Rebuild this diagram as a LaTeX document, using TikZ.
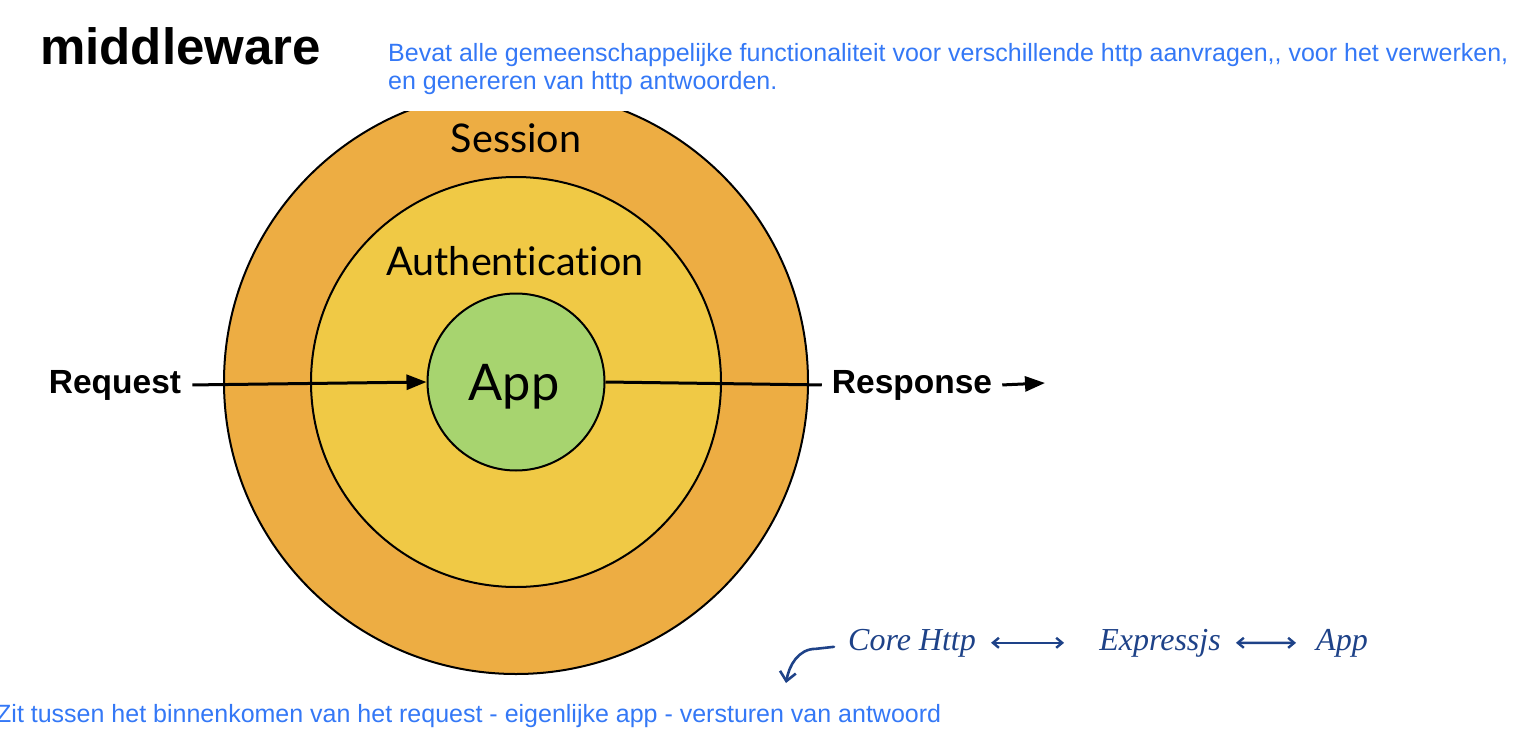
\documentclass[tikz,border=0pt]{standalone}
\usepackage{fontspec}
\setmainfont{Liberation Sans}
\newfontfamily\ringfont{Lato}[Ligatures=NoCommon]
\newfontfamily\handfont{Liberation Serif}
\usetikzlibrary{arrows.meta,positioning}
\usepackage{xcolor}
\definecolor{SessionOrange}{RGB}{237,173,67}
\definecolor{AuthYellow}{RGB}{240,201,69}
\definecolor{AppGreen}{RGB}{167,212,111}
\definecolor{NoteBlue}{RGB}{52,120,246}
\definecolor{InkBlue}{RGB}{30,66,136}
\tikzset{
  ring/.style={circle, draw=black, line width=2pt, inner sep=0pt},
  ringlabel/.style={font=\ringfont\fontsize{39.5}{40}\selectfont, anchor=base},
  sidelabel/.style={font=\bfseries\fontsize{33.5}{34}\selectfont, anchor=base,
    inner sep=0pt},
  note/.style={text=NoteBlue, font=\fontsize{25}{28}\selectfont, align=left,
    inner sep=0pt},
  hand/.style={text=InkBlue, font=\handfont\itshape\fontsize{32}{32}\selectfont,
    anchor=base, inner sep=0pt},
  flow/.style={-{Triangle[length=20pt,width=15pt]}, line width=3pt},
  inkarrow/.style={{Straight Barb[length=6pt,width=10pt]}-{Straight Barb[length=6pt,width=10pt]},
    InkBlue, line width=2.4pt, line cap=round},
  hook/.style={-{Straight Barb[length=9pt,width=16pt]}, InkBlue, line width=2.6pt,
    line cap=round}
}

\begin{document}
\begin{tikzpicture}[x=1pt, y=-1pt]
  \useasboundingbox (0,0) rectangle (1536,738);

  % title and remarks
  \node[anchor=base west, inner sep=0pt, font=\bfseries\fontsize{51}{51}\selectfont]
    (title) at (40,65) {middleware};
  \node[note, anchor=base west] (remark) at (388,90)
    {Bevat alle gemeenschappelijke functionaliteit voor verschillende http aanvragen,{}, voor het verwerken,\\
     en genereren van http antwoorden.};
  \node[note, anchor=base west] (between) at (-4,722)
    {Zit tussen het binnenkomen van het request - eigenlijke app - versturen van antwoord};

  % the rings (outer one is cut flat at the top)
  \begin{scope}
    \clip (0,112) rectangle (1536,738);
    \node[ring, fill=SessionOrange, minimum size=584pt] (session) at (516,382) {};
  \end{scope}
  \node[ring, fill=AuthYellow, minimum size=410pt] (auth) at (516,382) {};
  \node[ringlabel] (sessiontxt) at (516,153) {Session};
  \node[ringlabel] (authtxt) at (515,275) {Authentication};
  \node[ring, fill=AppGreen, minimum size=177pt] (app) at (516,382) {};
  \node[ringlabel, font=\ringfont\fontsize{50.5}{51}\selectfont] (apptxt) at (514,400) {App};

  % request / response
  \node[sidelabel] (request) at (115,393) {Request};
  \node[sidelabel] (response) at (912,393) {Response};
  \coordinate (out) at (1045,383);
  \draw[flow] ([xshift=11pt]request.east) -- (app.west);
  \draw[line width=3pt] (app.east) -- ([xshift=-10pt]response.west);
  \draw[flow] ([xshift=10pt]response.east) -- (out);

  % handwritten note
  \node[hand] (core) at (912,650) {Core Http};
  \node[hand] (express) at (1160,650) {Expressjs};
  \node[hand] (appnote) at (1342,650) {App};
  \coordinate (hookend) at (786,683);
  \draw[inkarrow, shorten <=15pt, shorten >=35pt] (core.east) -- (express.west);
  \draw[inkarrow, shorten <=15pt, shorten >=20pt] (express.east) -- (appnote.west);
  \draw[hook] ([xshift=-14pt,yshift=-4pt]core.west) -- ++(-18,2) to[out=180,in=80] (hookend);
\end{tikzpicture}
\end{document}
